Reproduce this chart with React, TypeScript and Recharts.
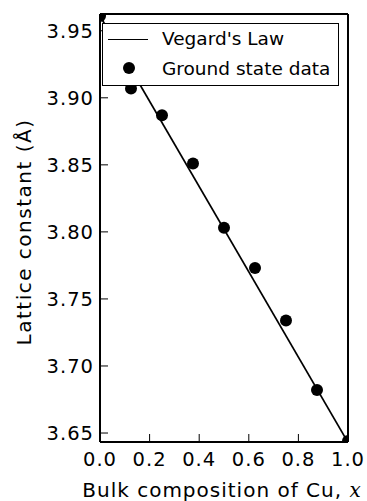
import { ComposedChart, Line, Scatter, XAxis, YAxis } from "recharts"

// Cu fraction and lattice constants
const compositions = [0, 0.125, 0.25, 0.375, 0.5, 0.625, 0.75, 0.875, 1.0]
const latticeConstants = [3.961, 3.907, 3.887, 3.851, 3.803, 3.773, 3.734, 3.682, 3.644]
const vegardX = [0, 1]
const vegardY = [3.961, 3.643]
const xTicks = [0, 0.2, 0.4, 0.6, 0.8, 1.0]
const yTicks = [3.65, 3.7, 3.75, 3.8, 3.85, 3.9, 3.95]

const groundState = compositions.map((x, i) => ({ x, a: latticeConstants[i] }))
const vegard = vegardX.map((x, i) => ({ x, a: vegardY[i] }))

const font = "'DejaVu Sans', sans-serif"
const tickStyle = { fontSize: 19.5, fill: "#000", fontFamily: font, letterSpacing: 1 }

function Dot(props: any) {
  const { cx, cy } = props
  return <circle cx={cx} cy={cy} r={6} fill="#000" />
}

function XLabel(props: any) {
  const { viewBox } = props
  const cx = viewBox.x + viewBox.width / 2 - 2
  return (
    <text x={cx} y={497} textAnchor="middle" fontSize={20} fontFamily={font} letterSpacing={1} fill="#000">
      Bulk composition of Cu, <tspan fontStyle="italic" fontFamily="'DejaVu Serif', serif">x</tspan>
    </text>
  )
}

function YLabel(props: any) {
  const { viewBox } = props
  const cy = viewBox.y + viewBox.height / 2 + 4
  return (
    <text
      x={31}
      y={cy}
      transform={`rotate(-90 31 ${cy})`}
      textAnchor="middle"
      fontSize={20}
      fontFamily={font}
      letterSpacing={1.5}
      fill="#000"
    >
      Lattice constant (Å)
    </text>
  )
}

export default function App() {
  return (
    <div style={{ position: "absolute", left: 0, top: 0, width: 367, height: 501, background: "#fff" }}>
      <ComposedChart width={367} height={501} margin={{ top: 13, right: 18, left: 0, bottom: 0 }}>
        <XAxis
          xAxisId="b"
          dataKey="x"
          type="number"
          domain={[0, 1]}
          ticks={xTicks}
          allowDataOverflow
          tickFormatter={(v) => v.toFixed(1)}
          height={59}
          tickSize={-8}
          tickMargin={18}
          tick={tickStyle}
          axisLine={{ stroke: "#000", strokeWidth: 2 }}
          tickLine={{ stroke: "#000", strokeWidth: 1 }}
          label={<XLabel />}
        />
        <XAxis
          xAxisId="t"
          orientation="top"
          dataKey="x"
          type="number"
          domain={[0, 1]}
          ticks={xTicks}
          allowDataOverflow
          height={1}
          tickSize={-8}
          tick={false}
          axisLine={{ stroke: "#000", strokeWidth: 2 }}
          tickLine={{ stroke: "#000", strokeWidth: 1 }}
        />
        <YAxis
          yAxisId="l"
          dataKey="a"
          type="number"
          domain={[3.6433, 3.9625]}
          ticks={yTicks}
          allowDataOverflow
          tickFormatter={(v) => v.toFixed(2)}
          width={100}
          tickSize={-8}
          tickMargin={14}
          tick={tickStyle}
          axisLine={{ stroke: "#000", strokeWidth: 2 }}
          tickLine={{ stroke: "#000", strokeWidth: 1 }}
          label={<YLabel />}
        />
        <YAxis
          yAxisId="r"
          orientation="right"
          dataKey="a"
          type="number"
          domain={[3.6433, 3.9625]}
          ticks={yTicks}
          allowDataOverflow
          width={1}
          tickSize={-8}
          tick={false}
          axisLine={{ stroke: "#000", strokeWidth: 2 }}
          tickLine={{ stroke: "#000", strokeWidth: 1 }}
        />
        <Line
          xAxisId="b"
          yAxisId="l"
          data={vegard}
          dataKey="a"
          type="linear"
          stroke="#000"
          strokeWidth={1.7}
          dot={false}
          activeDot={false}
          isAnimationActive={false}
        />
        <Scatter
          xAxisId="b"
          yAxisId="l"
          data={groundState}
          dataKey="a"
          fill="#000"
          shape={<Dot />}
          isAnimationActive={false}
        />
      </ComposedChart>
      <div
        style={{
          position: "absolute",
          left: 102,
          top: 23,
          width: 235,
          height: 61,
          border: "1.5px solid #000",
          background: "#fff",
          fontFamily: font,
          fontSize: 18.5,
          color: "#000",
        }}
      >
        <div style={{ position: "absolute", left: 5, top: 15, width: 40, height: 0, borderTop: "1.5px solid #000" }} />
        <div style={{ position: "absolute", left: 20, top: 38, width: 12, height: 12, borderRadius: 6, background: "#000" }} />
        <div style={{ position: "absolute", left: 59, top: 2, whiteSpace: "nowrap", lineHeight: "26px" }}>Vegard's Law</div>
        <div style={{ position: "absolute", left: 59, top: 32, whiteSpace: "nowrap", lineHeight: "26px" }}>Ground state data</div>
      </div>
    </div>
  )
}
